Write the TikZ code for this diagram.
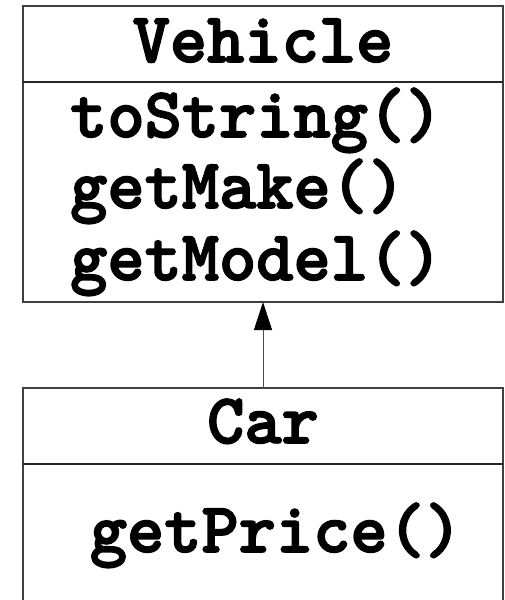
\documentclass[tikz,border=0pt]{standalone}
\usepackage{fontspec}
\newfontfamily\umlfont{lmmonolt10-bold.otf}[FakeBold=2.2]
\usetikzlibrary{arrows.meta,calc}
\begin{document}
\begin{tikzpicture}[x=1pt,y=-1pt,
  classbox/.style={draw=black!75, line width=1.3pt, minimum width=480pt, inner sep=0pt, outer sep=0pt},
  umltext/.style={font=\umlfont\fontsize{70.9}{80}\selectfont, inner sep=0pt},
  divider/.style={draw=black!85, line width=1.3pt},
  inherit/.style={draw=black!70, line width=1pt, -{Triangle[length=28pt,width=18pt,color=black]}}]
  \useasboundingbox (0,0) rectangle (504,600);
  % class boxes
  \node[classbox, minimum height=296pt] (vehicle) at (263,154) {};
  \node[classbox, minimum height=232pt] (car) at (263,504) {};
  % compartment dividers
  \coordinate (vdl) at ($(vehicle.north west)+(0,76)$);
  \coordinate (vdr) at ($(vehicle.north east)+(0,76)$);
  \coordinate (cdl) at ($(car.north west)+(0,76)$);
  \coordinate (cdr) at ($(car.north east)+(0,76)$);
  \draw[divider] (vdl) -- (vdr);
  \draw[divider] (cdl) -- (cdr);
  % names and operations
  \node[umltext, anchor=base] (vname) at (263,62) {Vehicle};
  \node[umltext, anchor=base west] (op1) at (70,137) {toString()};
  \node[umltext, anchor=base west] (op2) at (70,208) {getMake()};
  \node[umltext, anchor=base west] (op3) at (70,280) {getModel()};
  \node[umltext, anchor=base] (cname) at (263,443) {Car};
  \node[umltext, anchor=base] (op4) at (276,552) {getPrice()};
  % generalization
  \draw[inherit] (car.north) -- (vehicle.south);
\end{tikzpicture}
\end{document}
